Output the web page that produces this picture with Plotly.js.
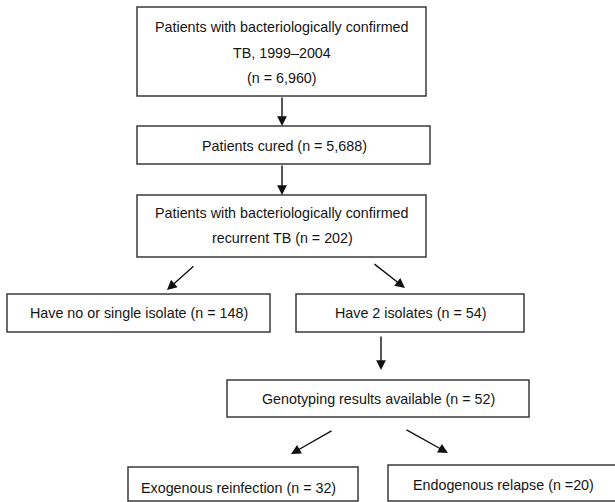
<!DOCTYPE html>
<html>
<head>
<meta charset="utf-8">
<script src="https://cdn.plot.ly/plotly-3.0.1.min.js"></script>
<style>html,body{margin:0;padding:0;background:#fff;}#chart{width:615px;height:502px;}</style>
</head>
<body>
<div id="chart"></div>
<script>
// ---- Data: flowchart stages (text lines of each box) ----
var stageNames = ["confirmed", "cured", "recurrent", "noIsolate", "twoIsolates", "genotyped", "exogenous", "endogenous"];
var stageLines = [
  ["Patients with bacteriologically confirmed", "TB, 1999\u20132004", "(n = 6,960)"],
  ["Patients cured (n = 5,688)"],
  ["Patients with bacteriologically confirmed", "recurrent TB (n = 202)"],
  ["Have no or single isolate (n = 148)"],
  ["Have 2 isolates (n = 54)"],
  ["Genotyping results available (n = 52)"],
  ["Exogenous reinfection (n = 32)"],
  ["Endogenous relapse (n =20)"]
];
var stageCounts = [6960, 5688, 202, 148, 54, 52, 32, 20];
// links between stages: [from, to]
var links = [[0,1],[1,2],[2,3],[2,4],[4,5],[5,6],[5,7]];

// ---- Layout geometry (pixel positions, not data) ----
var boxes = [ // x0, x1, y0, y1
  [137, 426, 7, 96],
  [137, 430, 126, 164],
  [137, 426, 195, 257],
  [7, 270, 294, 332],
  [296, 524, 294, 332],
  [227, 529, 380, 417],
  [128, 358, 467, 501],
  [388, 618, 465, 501]
];
var textPos = [ // center x, first line y, line step
  [282, 27, 25.5],
  [284, 146, 0],
  [282, 213, 25],
  [139, 313, 0],
  [410, 313, 0],
  [378, 399, 0],
  [238, 488, 0],
  [503, 485, 0]
];
var arrowGeom = [ // tail x, tail y, head x, head y
  [282, 96, 282, 126],
  [282, 164, 282, 195],
  [195, 265, 167, 290],
  [373, 263, 405, 288],
  [381, 335, 381, 370],
  [333, 430, 291, 454],
  [405, 429, 448, 453]
];

var shapes = [];
var annotations = [];
var font = {family: "Liberation Sans, Arial, sans-serif", size: 14.3, color: "#151515"};

boxes.forEach(function (b) {
  shapes.push({type: "rect", xref: "x", yref: "y", x0: b[0], x1: b[1], y0: b[2], y1: b[3],
    line: {color: "#3a3a3a", width: 1.5}, fillcolor: "rgba(0,0,0,0)"});
});

stageLines.forEach(function (lines, i) {
  var tp = textPos[i];
  lines.forEach(function (t, j) {
    annotations.push({x: tp[0], y: tp[1] + j * tp[2], xref: "x", yref: "y", text: t,
      showarrow: false, font: font, xanchor: "center", yanchor: "middle"});
  });
});

links.forEach(function (lk, i) {
  var g = arrowGeom[i];
  annotations.push({x: g[2], y: g[3], ax: g[0], ay: g[1], xref: "x", yref: "y", axref: "x", ayref: "y",
    text: "", showarrow: true, arrowhead: 2, arrowsize: 1.4, arrowwidth: 1.4, arrowcolor: "#111",
    standoff: 0, startstandoff: 0});
});

var layout = {
  width: 615, height: 502,
  margin: {l: 0, r: 0, t: 0, b: 0},
  paper_bgcolor: "#ffffff", plot_bgcolor: "#ffffff",
  xaxis: {range: [0, 615], visible: false, fixedrange: true},
  yaxis: {range: [502, 0], visible: false, fixedrange: true},
  shapes: shapes,
  annotations: annotations,
  showlegend: false
};

Plotly.newPlot("chart", [{x: [], y: [], type: "scatter", mode: "markers", hoverinfo: "skip"}], layout,
  {staticPlot: true, displayModeBar: false});
</script>
</body>
</html>
